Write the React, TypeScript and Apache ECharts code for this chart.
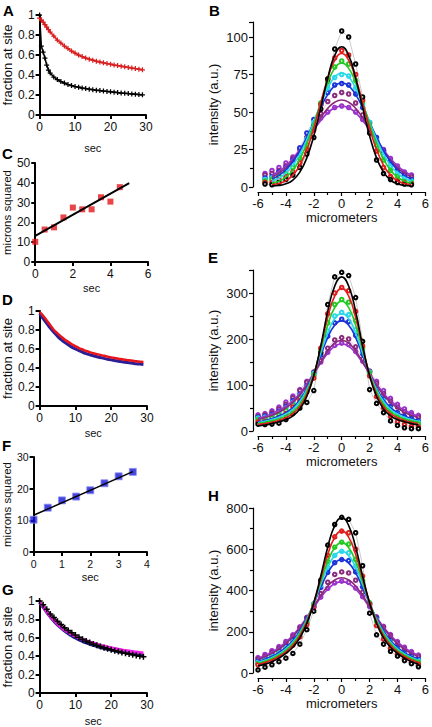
import React, { useEffect, useRef } from "react";
import * as echarts from "echarts";

const FONT = "'Liberation Sans', Arial, Helvetica, sans-serif";

// ---------- Panel A: fraction at site vs sec ----------
const A_TIME = [0, 0.5, 1, 1.5, 2, 2.5, 3, 4, 5, 6, 7, 8, 9, 10, 11, 12, 13, 14, 15, 16, 17, 18, 19, 20, 21, 22, 23, 24, 25, 26, 27, 28, 29];
const A_RED = [0.97, 0.95, 0.93, 0.905, 0.88, 0.855, 0.83, 0.79, 0.75, 0.72, 0.69, 0.665, 0.64, 0.62, 0.6, 0.585, 0.57, 0.558, 0.548, 0.538, 0.53, 0.522, 0.515, 0.508, 0.5, 0.494, 0.488, 0.482, 0.476, 0.47, 0.464, 0.458, 0.452];
const A_BLACK = [1.0, 0.69, 0.63, 0.57, 0.5, 0.45, 0.42, 0.38, 0.355, 0.335, 0.32, 0.305, 0.295, 0.285, 0.278, 0.27, 0.264, 0.258, 0.253, 0.248, 0.244, 0.24, 0.236, 0.232, 0.228, 0.224, 0.22, 0.217, 0.214, 0.211, 0.208, 0.205, 0.202];

// ---------- Panel C: microns squared vs sec ----------
const C_TIME = [0, 0.5, 1, 1.5, 2, 2.5, 3, 3.5, 4, 4.5];
const C_MSD = [10.2, 16.4, 17.5, 22.5, 27.5, 26.6, 26.6, 32.7, 30.5, 37.8];
const C_FIT_X = [0, 5];
const C_FIT_Y = [13.2, 39.8];

// ---------- Panel D ----------
const D_TIME = [0, 1, 2, 3, 4, 5, 6, 7, 8, 9, 10, 11, 12, 13, 14, 15, 16, 17, 18, 19, 20, 21, 22, 23, 24, 25, 26, 27, 28, 29];
const D_RED = [0.99, 0.95, 0.9, 0.85, 0.8, 0.765, 0.73, 0.7, 0.675, 0.65, 0.63, 0.61, 0.595, 0.58, 0.567, 0.556, 0.546, 0.537, 0.528, 0.52, 0.512, 0.505, 0.498, 0.492, 0.486, 0.481, 0.476, 0.471, 0.467, 0.463];
const D_BLUE = [0.97, 0.92, 0.87, 0.82, 0.775, 0.735, 0.7, 0.67, 0.645, 0.62, 0.6, 0.582, 0.566, 0.552, 0.54, 0.529, 0.519, 0.51, 0.501, 0.493, 0.486, 0.479, 0.472, 0.466, 0.46, 0.455, 0.45, 0.445, 0.441, 0.437];

// ---------- Panel F ----------
const F_TIME = [0, 0.5, 1, 1.5, 2, 2.5, 3, 3.5];
const F_MSD = [10.2, 14.0, 16.3, 17.5, 19.5, 21.7, 23.9, 25.3];
const F_FIT_X = [0, 3.5];
const F_FIT_Y = [11.6, 25.4];

// ---------- Panel G ----------
const G_TIME = [0, 1, 2, 3, 4, 5, 6, 7, 8, 9, 10, 11, 12, 13, 14, 15, 16, 17, 18, 19, 20, 21, 22, 23, 24, 25, 26, 27, 28, 29];
const G_BLACK = [1.0, 0.96, 0.91, 0.86, 0.82, 0.78, 0.745, 0.71, 0.68, 0.655, 0.63, 0.605, 0.585, 0.565, 0.548, 0.532, 0.518, 0.505, 0.492, 0.48, 0.47, 0.46, 0.45, 0.441, 0.432, 0.424, 0.416, 0.408, 0.4, 0.393];
const G_NAVY = [0.98, 0.93, 0.875, 0.825, 0.78, 0.74, 0.705, 0.673, 0.645, 0.62, 0.598, 0.578, 0.56, 0.544, 0.53, 0.517, 0.505, 0.494, 0.484, 0.475, 0.466, 0.458, 0.45, 0.443, 0.436, 0.43, 0.424, 0.418, 0.412, 0.407];
const G_MAGENTA = [0.99, 0.94, 0.88, 0.83, 0.79, 0.75, 0.715, 0.685, 0.66, 0.638, 0.618, 0.6, 0.584, 0.569, 0.556, 0.543, 0.531, 0.52, 0.51, 0.501, 0.492, 0.484, 0.476, 0.469, 0.462, 0.456, 0.45, 0.445, 0.44, 0.435];

// ---------- Profiles (B, E, H): intensity vs micrometers ----------
const PROFILE_COLORS = ["#000000", "#e01e1e", "#22c922", "#2ad8ea", "#1b33d8", "#8a2a7a", "#9a34cc"];

const B_DATA_X = [-5.5, -5, -4.5, -4, -3.5, -3, -2.5, -2, -1.5, -1, -0.5, 0, 0.5, 1, 1.5, 2, 2.5, 3, 3.5, 4, 4.5, 5];
const B_DATA = [
  [2, 1.5, 3, 5, 8, 13, 22, 33, 52, 72, 92, 104, 100, 82, 60, 36, 18, 9, 5, 3, 2, 1.5],
  [3, 3, 5, 7, 10, 16, 25, 38, 55, 72, 86, 91, 88, 75, 58, 40, 24, 13, 7, 4, 3, 2],
  [4, 5, 7, 9, 13, 19, 28, 41, 56, 70, 80, 84, 82, 71, 57, 42, 28, 18, 11, 7, 4, 3],
  [5, 6, 8, 11, 15, 22, 32, 43, 55, 66, 73, 75, 74, 66, 55, 43, 31, 21, 14, 9, 6, 4],
  [6, 7, 10, 13, 18, 26, 36, 45, 55, 63, 68, 69, 68, 62, 53, 43, 33, 24, 17, 11, 8, 5],
  [8, 9, 11, 14, 19, 25, 33, 41, 49, 57, 61, 63, 62, 56, 48, 39, 31, 24, 17, 12, 9, 7],
  [9, 11, 13, 16, 20, 26, 33, 40, 46, 50, 53, 54, 53, 50, 45, 38, 31, 25, 19, 14, 10, 8],
];
const B_FIT_X = [-5, -4.5, -4, -3.5, -3, -2.5, -2, -1.5, -1, -0.5, 0, 0.5, 1, 1.5, 2, 2.5, 3, 3.5, 4, 4.5, 5];
const B_FIT = [
  [0.7, 1.0, 2.1, 4.6, 9.9, 19.4, 34.1, 52.9, 72.6, 87.7, 93.5, 87.7, 72.6, 52.9, 34.1, 19.4, 9.9, 4.6, 2.1, 1.0, 0.7],
  [1.5, 2.3, 4.2, 7.9, 14.6, 25.0, 39.3, 56.1, 72.5, 84.5, 89, 84.5, 72.5, 56.1, 39.3, 25.0, 14.6, 7.9, 4.2, 2.3, 1.5],
  [2.6, 3.9, 6.6, 11.2, 18.6, 29.0, 42.1, 56.4, 69.6, 79.1, 82.5, 79.1, 69.6, 56.4, 42.1, 29.0, 18.6, 11.2, 6.6, 3.9, 2.6],
  [3.9, 5.8, 9.2, 14.4, 21.9, 31.7, 43.3, 55.3, 65.9, 73.3, 76, 73.3, 65.9, 55.3, 43.3, 31.7, 21.9, 14.4, 9.2, 5.8, 3.9],
  [5.4, 7.8, 11.5, 17.0, 24.3, 33.2, 43.2, 53.1, 61.6, 67.4, 69.5, 67.4, 61.6, 53.1, 43.2, 33.2, 24.3, 17.0, 11.5, 7.8, 5.4],
  [6.7, 9.2, 12.8, 17.6, 23.8, 31.0, 38.7, 46.1, 52.4, 56.5, 58, 56.5, 52.4, 46.1, 38.7, 31.0, 23.8, 17.6, 12.8, 9.2, 6.7],
  [7.8, 10.5, 14.2, 19.0, 24.8, 31.3, 37.9, 44.3, 49.4, 52.8, 54, 52.8, 49.4, 44.3, 37.9, 31.3, 24.8, 19.0, 14.2, 10.5, 7.8],
];

const EH_X = [-6, -5.5, -5, -4.5, -4, -3.5, -3, -2.5, -2, -1.5, -1, -0.5, 0, 0.5, 1, 1.5, 2, 2.5, 3, 3.5, 4, 4.5, 5, 5.5];
const E_DATA = [
  [15, 14, 15, 17, 25, 38, 50, 62, 88, 170, 275, 335, 345, 338, 290, 195, 90, 60, 40, 22, 12, 7, 5, 5],
  [20, 20, 22, 28, 38, 52, 66, 85, 115, 180, 255, 300, 312, 305, 260, 185, 120, 75, 50, 32, 20, 14, 10, 9],
  [25, 26, 29, 35, 45, 58, 72, 92, 122, 175, 235, 275, 286, 280, 240, 180, 126, 85, 60, 42, 30, 22, 18, 15],
  [28, 30, 33, 40, 50, 62, 77, 96, 125, 170, 217, 250, 258, 253, 220, 172, 128, 92, 66, 48, 36, 28, 23, 19],
  [30, 32, 36, 43, 53, 66, 80, 99, 126, 165, 206, 235, 243, 238, 208, 168, 128, 95, 70, 53, 40, 32, 27, 22],
  [32, 35, 40, 48, 58, 72, 88, 106, 128, 153, 180, 198, 203, 200, 183, 157, 130, 104, 82, 65, 52, 42, 35, 30],
  [35, 38, 44, 52, 63, 76, 90, 108, 128, 150, 171, 186, 191, 188, 173, 152, 130, 108, 88, 71, 58, 48, 40, 34],
];
const E_FIT = [
  [11, 13, 16, 20, 25, 33, 48, 75, 120, 185, 260, 315, 335, 315, 260, 185, 120, 75, 48, 33, 25, 20, 16, 13],
  [14, 16, 19, 23, 29, 38, 53, 80, 122, 183, 247, 293, 310, 293, 247, 183, 122, 80, 53, 38, 29, 23, 19, 16],
  [16, 19, 22, 26, 33, 42, 58, 85, 124, 177, 230, 268, 282, 268, 230, 177, 124, 85, 58, 42, 33, 26, 22, 19],
  [18, 21, 25, 30, 37, 47, 64, 90, 125, 170, 213, 244, 255, 244, 213, 170, 125, 90, 64, 47, 37, 30, 25, 21],
  [20, 23, 27, 33, 40, 51, 68, 92, 125, 165, 203, 230, 240, 230, 203, 165, 125, 92, 68, 51, 40, 33, 27, 23],
  [25, 29, 34, 41, 50, 62, 78, 99, 124, 150, 174, 191, 197, 191, 174, 150, 124, 99, 78, 62, 50, 41, 34, 29],
  [28, 32, 38, 45, 54, 66, 82, 102, 125, 148, 169, 184, 189, 184, 169, 148, 125, 102, 82, 66, 54, 45, 38, 32],
];
const H_DATA = [
  [15, 28, 40, 55, 72, 95, 140, 210, 300, 450, 620, 720, 755, 745, 680, 520, 290, 185, 140, 105, 82, 60, 45, 30],
  [40, 50, 65, 82, 105, 135, 175, 235, 320, 440, 570, 660, 688, 680, 600, 470, 335, 230, 165, 120, 90, 68, 52, 42],
  [45, 57, 72, 90, 113, 143, 185, 245, 330, 435, 540, 610, 634, 625, 550, 448, 340, 250, 185, 140, 105, 82, 65, 52],
  [52, 64, 80, 98, 122, 152, 193, 255, 335, 425, 512, 570, 590, 583, 518, 433, 340, 258, 195, 150, 114, 90, 73, 60],
  [58, 70, 86, 105, 130, 160, 202, 262, 335, 415, 488, 535, 550, 545, 490, 418, 338, 265, 205, 160, 124, 98, 80, 66],
  [68, 82, 100, 120, 145, 178, 218, 268, 325, 385, 440, 478, 490, 485, 450, 392, 330, 270, 222, 180, 145, 118, 96, 80],
  [75, 90, 108, 128, 153, 185, 224, 270, 320, 368, 410, 437, 445, 440, 412, 370, 322, 272, 226, 186, 152, 125, 104, 87],
];
const H_FIT = [
  [35, 43, 55, 72, 95, 125, 170, 240, 340, 470, 610, 715, 752, 715, 610, 470, 340, 240, 170, 125, 95, 72, 55, 43],
  [42, 51, 63, 80, 103, 135, 180, 248, 342, 458, 575, 658, 688, 658, 575, 458, 342, 248, 180, 135, 103, 80, 63, 51],
  [47, 57, 70, 87, 110, 143, 190, 255, 342, 443, 540, 607, 632, 607, 540, 443, 342, 255, 190, 143, 110, 87, 70, 57],
  [52, 62, 75, 93, 117, 150, 197, 260, 340, 430, 512, 569, 590, 569, 512, 430, 340, 260, 197, 150, 117, 93, 75, 62],
  [56, 67, 81, 99, 124, 158, 204, 264, 337, 415, 485, 533, 550, 533, 485, 415, 337, 264, 204, 158, 124, 99, 81, 67],
  [66, 79, 95, 115, 142, 176, 218, 268, 322, 375, 421, 451, 462, 451, 421, 375, 322, 268, 218, 176, 142, 115, 95, 79],
  [72, 85, 102, 123, 150, 183, 223, 269, 318, 366, 406, 433, 443, 433, 406, 366, 318, 269, 223, 183, 150, 123, 102, 85],
];

const zip = (xs: number[], ys: number[]) => xs.map((x, i) => [x, ys[i]]);
const PLUS = "path://M3,0H5V3H8V5H5V8H3V5H0V3H3Z";

function leftX(grid: number, max: number, interval: number, gap: number, fs = 12) {
  return {
    gridIndex: grid, type: "value", min: 0, max, interval,
    name: "sec", nameLocation: "middle", nameGap: gap,
    nameTextStyle: { color: "#111", fontSize: 11, fontFamily: FONT },
    axisLine: { show: true, onZero: false, lineStyle: { color: "#000", width: 2 } },
    axisTick: { show: true, length: 4, lineStyle: { color: "#000", width: 2 } },
    splitLine: { show: false },
    axisLabel: { color: "#111", fontSize: fs, fontFamily: FONT, margin: 6 },
  };
}
function leftY(grid: number, max: number, interval: number, name: string, gap: number, fs = 12, nfs = 13) {
  return {
    gridIndex: grid, type: "value", min: 0, max, interval,
    name, nameLocation: "middle", nameGap: gap,
    nameTextStyle: { color: "#111", fontSize: nfs, fontFamily: FONT },
    axisLine: { show: true, onZero: false, lineStyle: { color: "#000", width: 2 } },
    axisTick: { show: true, length: 4, lineStyle: { color: "#000", width: 2 } },
    splitLine: { show: false },
    axisLabel: { color: "#111", fontSize: fs, fontFamily: FONT, margin: 5 },
  };
}
function rightX(grid: number, gap: number) {
  return {
    gridIndex: grid, type: "value", min: -6, max: 6, interval: 2, offset: 5,
    name: "micrometers", nameLocation: "middle", nameGap: gap,
    nameTextStyle: { color: "#111", fontSize: 13, fontFamily: FONT },
    axisLine: { show: true, onZero: false, lineStyle: { color: "#000", width: 1.2 } },
    axisTick: { show: true, length: 4, lineStyle: { color: "#000", width: 1.2 } },
    minorTick: { show: true, splitNumber: 2, length: 3, lineStyle: { color: "#000", width: 1.2 } },
    splitLine: { show: false },
    axisLabel: { color: "#111", fontSize: 13, fontFamily: FONT, margin: 5 },
  };
}
function rightY(grid: number, max: number, interval: number, gap: number, showMax: boolean) {
  return {
    gridIndex: grid, type: "value", min: 0, max, interval, offset: 5,
    name: "intensity (a.u.)", nameLocation: "middle", nameGap: gap,
    nameTextStyle: { color: "#111", fontSize: 13, fontFamily: FONT },
    axisLine: { show: true, onZero: false, lineStyle: { color: "#000", width: 1.2 } },
    axisTick: { show: true, length: 4, lineStyle: { color: "#000", width: 1.2 } },
    minorTick: { show: true, splitNumber: 2, length: 3, lineStyle: { color: "#000", width: 1.2 } },
    splitLine: { show: false },
    axisLabel: { color: "#111", fontSize: 13, fontFamily: FONT, margin: 5, showMaxLabel: showMax },
  };
}

function profileSeries(axis: number, dataX: number[], data: number[][], fitX: number[], fit: number[][]) {
  const out: any[] = [];
  for (let i = data.length - 1; i >= 0; i--) {
    out.push({
      type: "line", xAxisIndex: axis, yAxisIndex: axis, data: zip(dataX, data[i]),
      symbol: "emptyCircle", symbolSize: 3.5, showSymbol: true,
      itemStyle: { color: PROFILE_COLORS[i], borderWidth: 1 },
      lineStyle: { color: PROFILE_COLORS[i], width: 0.6, opacity: 0.35 }, z: 2,
    });
  }
  for (let i = fit.length - 1; i >= 0; i--) {
    out.push({
      type: "line", xAxisIndex: axis, yAxisIndex: axis, data: zip(fitX, fit[i]),
      symbol: "none", smooth: true,
      lineStyle: { color: PROFILE_COLORS[i], width: 1.6 }, z: 3,
    });
  }
  return out;
}

const LETTERS = [
  { t: "A", x: 3, y: 3 }, { t: "C", x: 2, y: 146 }, { t: "D", x: 2, y: 292 },
  { t: "F", x: 2, y: 438 }, { t: "G", x: 2, y: 582 },
  { t: "B", x: 209, y: 3 }, { t: "E", x: 208, y: 250 }, { t: "H", x: 208, y: 488 },
];

export default function App() {
  const ref = useRef<HTMLDivElement>(null);
  useEffect(() => {
    document.body.style.margin = "0";
    const chart = echarts.init(ref.current!, null, { renderer: "svg" });
    const option: any = {
      animation: false,
      backgroundColor: "#ffffff",
      textStyle: { fontFamily: FONT },
      grid: [
        { left: 39, top: 15, width: 107, height: 100 },
        { left: 33, top: 163, width: 115, height: 99 },
        { left: 38, top: 311, width: 109, height: 95 },
        { left: 33, top: 457, width: 114, height: 95 },
        { left: 35, top: 601, width: 112, height: 94 },
        { left: 258, top: 22, width: 169, height: 165 },
        { left: 258, top: 270, width: 170, height: 161 },
        { left: 258, top: 508, width: 169, height: 165 },
      ],
      xAxis: [
        leftX(0, 30, 10, 27),
        leftX(1, 6, 2, 20),
        leftX(2, 30, 10, 21),
        leftX(3, 4, 1, 19, 10.5),
        leftX(4, 30, 10, 22),
        rightX(5, 16),
        rightX(6, 18),
        rightX(7, 18),
      ],
      yAxis: [
        leftY(0, 1, 0.2, "fraction at site", 24),
        leftY(1, 50, 10, "microns squared", 19, 12, 11.5),
        leftY(2, 1, 0.2, "fraction at site", 23),
        leftY(3, 30, 10, "microns squared", 19, 10.5, 11.5),
        leftY(4, 1, 0.2, "fraction at site", 21),
        rightY(5, 110, 25, 33, false),
        rightY(6, 350, 100, 33, false),
        rightY(7, 800, 200, 33, true),
      ],
      graphic: LETTERS.map((l) => ({
        type: "text", left: l.x, top: l.y,
        style: { text: l.t, font: `bold 15px ${FONT}`, fill: "#000" },
      })),
      series: [
        // A
        { type: "line", xAxisIndex: 0, yAxisIndex: 0, data: zip(A_TIME, A_RED), symbol: PLUS, symbolSize: 5,
          itemStyle: { color: "#d81e1e" }, lineStyle: { color: "#d81e1e", width: 1.5 } },
        { type: "line", xAxisIndex: 0, yAxisIndex: 0, data: zip(A_TIME, A_BLACK), symbol: PLUS, symbolSize: 5,
          itemStyle: { color: "#000" }, lineStyle: { color: "#000", width: 1.5 } },
        // C
        { type: "scatter", xAxisIndex: 1, yAxisIndex: 1, data: zip(C_TIME, C_MSD), symbol: "rect", symbolSize: 6,
          itemStyle: { color: "#e4161a" }, z: 3 },
        { type: "line", xAxisIndex: 1, yAxisIndex: 1, data: zip(C_FIT_X, C_FIT_Y), symbol: "none",
          lineStyle: { color: "#000", width: 2 }, z: 4 },
        // D
        { type: "line", xAxisIndex: 2, yAxisIndex: 2, data: zip(D_TIME, D_BLUE), symbol: "none", smooth: true,
          lineStyle: { color: "#2b1f95", width: 3 } },
        { type: "line", xAxisIndex: 2, yAxisIndex: 2, data: zip(D_TIME, D_RED), symbol: "none", smooth: true,
          lineStyle: { color: "#e8161c", width: 2.5 } },
        // F
        { type: "scatter", xAxisIndex: 3, yAxisIndex: 3, data: zip(F_TIME, F_MSD), symbol: "rect", symbolSize: 7,
          itemStyle: { color: "#1515d8", borderColor: "#8f8ff0", borderWidth: 1 }, z: 3 },
        { type: "line", xAxisIndex: 3, yAxisIndex: 3, data: zip(F_FIT_X, F_FIT_Y), symbol: "none",
          lineStyle: { color: "#000", width: 1.5 }, z: 4 },
        // G
        { type: "line", xAxisIndex: 4, yAxisIndex: 4, data: zip(G_TIME, G_NAVY), symbol: "none", smooth: true,
          lineStyle: { color: "#1c1c8a", width: 3 } },
        { type: "line", xAxisIndex: 4, yAxisIndex: 4, data: zip(G_TIME, G_BLACK), symbol: PLUS, symbolSize: 6, smooth: true,
          itemStyle: { color: "#000" }, lineStyle: { color: "#000", width: 1.5 } },
        { type: "line", xAxisIndex: 4, yAxisIndex: 4, data: zip(G_TIME, G_MAGENTA), symbol: "none", smooth: true,
          lineStyle: { color: "#f020e8", width: 3 } },
        // B, E, H
        ...profileSeries(5, B_DATA_X, B_DATA, B_FIT_X, B_FIT),
        ...profileSeries(6, EH_X, E_DATA, EH_X, E_FIT),
        ...profileSeries(7, EH_X, H_DATA, EH_X, H_FIT),
      ],
    };
    chart.setOption(option);
    return () => chart.dispose();
  }, []);
  return <div ref={ref} style={{ position: "absolute", left: 0, top: 0, width: 432, height: 727, background: "#fff" }} />;
}
